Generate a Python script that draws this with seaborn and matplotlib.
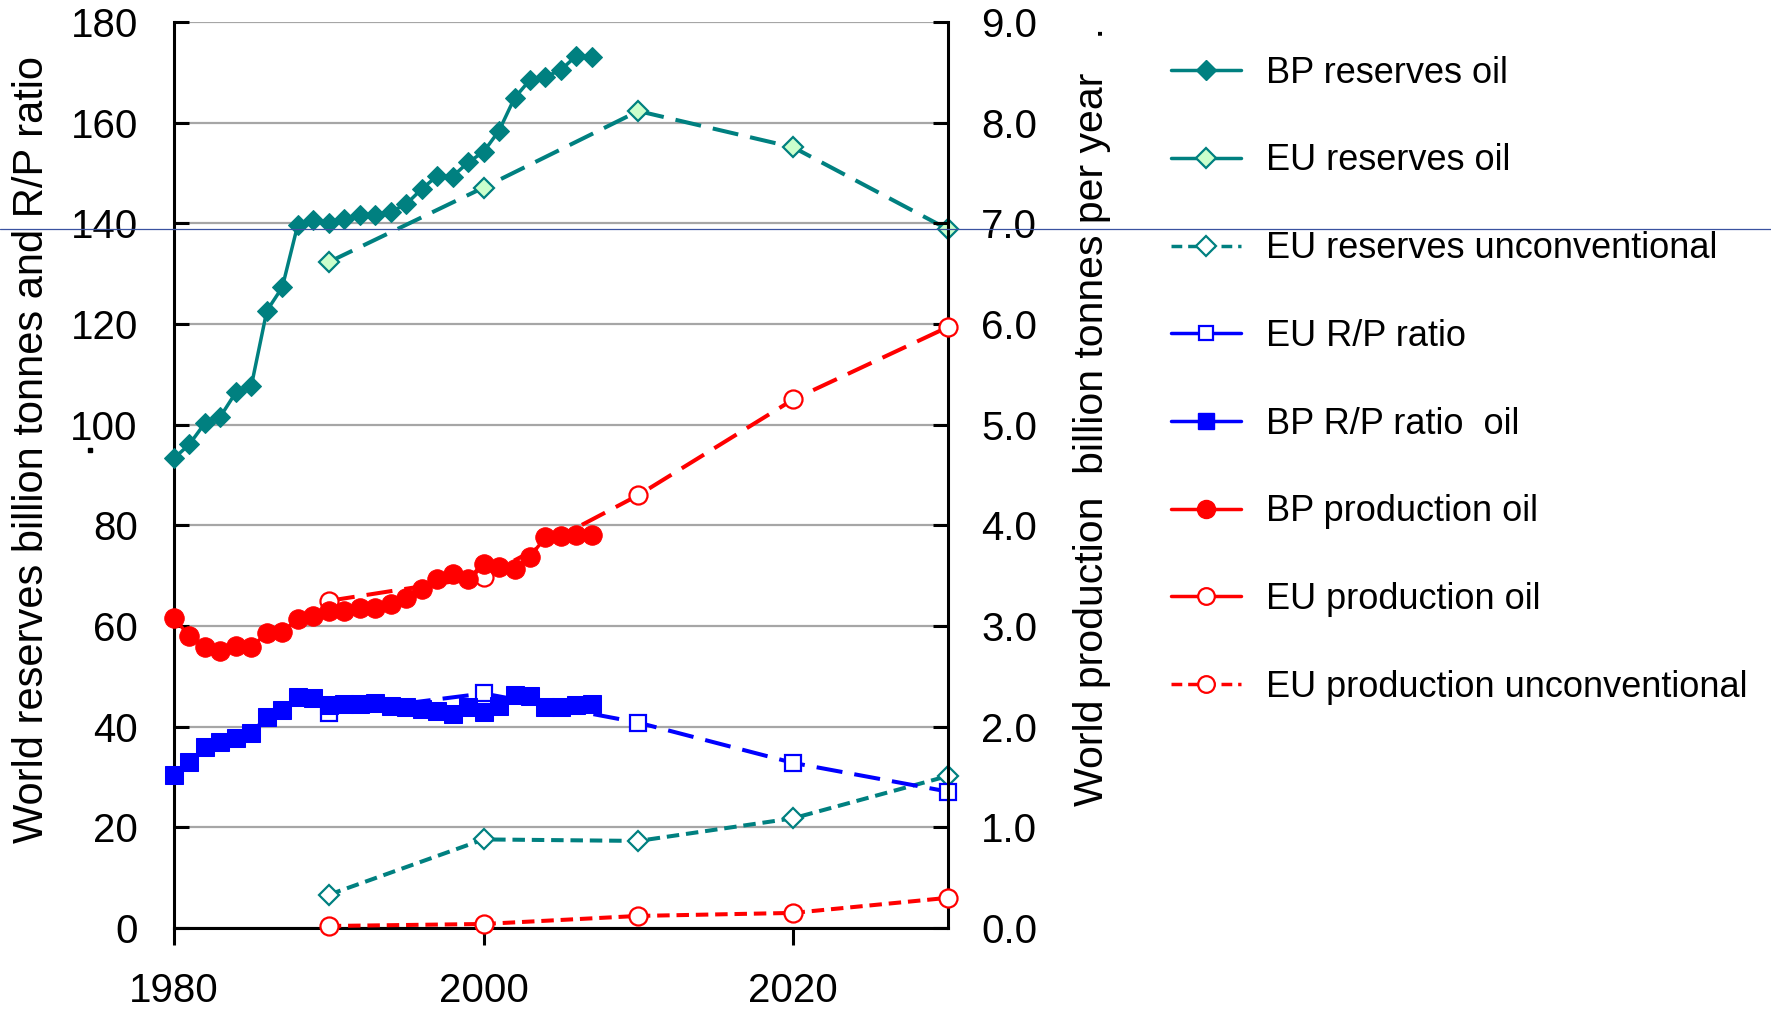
import matplotlib
matplotlib.use("Agg")
import matplotlib.pyplot as plt
from matplotlib.lines import Line2D
from matplotlib.ticker import FormatStrFormatter
import seaborn as sns
import pandas as pd

# ---- data -------------------------------------------------------------
bp_years = list(range(1980, 2008))
bp_reserves_oil = [93.3, 96.1, 100.3, 101.6, 106.4, 107.7, 122.6, 127.3, 139.7, 140.7,
                   140.0, 140.9, 141.7, 141.7, 142.3, 143.8, 146.8, 149.4, 149.3, 152.1,
                   154.2, 158.4, 164.9, 168.5, 169.1, 170.5, 173.3, 173.0]
bp_rp_ratio_oil = [30.3, 32.9, 35.9, 36.9, 37.8, 38.8, 42.0, 43.3, 45.8, 45.6,
                   44.4, 44.6, 44.6, 44.8, 44.1, 44.0, 43.5, 43.2, 42.5, 44.0,
                   42.9, 44.1, 46.3, 46.0, 44.0, 44.0, 44.4, 44.5]
bp_production_oil = [3.08, 2.90, 2.79, 2.75, 2.80, 2.79, 2.93, 2.94, 3.07, 3.10,
                     3.15, 3.15, 3.18, 3.18, 3.22, 3.28, 3.37, 3.47, 3.52, 3.47,
                     3.62, 3.59, 3.57, 3.69, 3.88, 3.89, 3.90, 3.90]

eu_years = [1990, 2000, 2010, 2020, 2030]
eu_reserves_oil = [132.3, 147.1, 162.3, 155.1, 138.8]
eu_reserves_unconv = [6.6, 17.6, 17.3, 21.8, 30.2]
eu_rp_ratio = [42.7, 46.6, 40.8, 32.8, 27.1]
eu_production_oil = [3.25, 3.49, 4.30, 5.25, 5.97]
eu_production_unconv = [0.02, 0.04, 0.12, 0.15, 0.30]

left_ticks = [0, 20, 40, 60, 80, 100, 120, 140, 160, 180]
right_ticks = [0.0, 1.0, 2.0, 3.0, 4.0, 5.0, 6.0, 7.0, 8.0, 9.0]
x_ticks = [1980, 2000, 2020]

series_labels = ["BP reserves oil", "EU reserves oil", "EU reserves unconventional",
                 "EU R/P ratio", "BP R/P ratio  oil", "BP production oil",
                 "EU production oil", "EU production unconventional"]

# ---- style ------------------------------------------------------------
sns.set_theme(style="white")
plt.rcParams["font.family"] = ["Liberation Sans", "DejaVu Sans"]

TEAL = "#008080"
BLUE = "#0000ff"
RED = "#ff0000"
MINT = "#ccffcc"
LONG = (0, (6.5, 3))
SHORT = (0, (3.1, 1.7))
FS = 29
LW_SOLID = 2.5
LW_DASH = 2.9

fig = plt.figure(figsize=(17.71, 10.13), dpi=100)
ax = fig.add_axes([0.0982, 0.0839, 0.4371, 0.8944])
ax2 = ax.twinx()

bp = pd.DataFrame({"year": bp_years, "reserves": bp_reserves_oil,
                   "rp": bp_rp_ratio_oil, "production": bp_production_oil})
eu = pd.DataFrame({"year": eu_years, "reserves": eu_reserves_oil,
                   "unconv": eu_reserves_unconv, "rp": eu_rp_ratio,
                   "production": eu_production_oil, "prod_unconv": eu_production_unconv})

common = dict(estimator=None, sort=False, clip_on=False, legend=False)

# left axis: reserves (billion tonnes) and R/P ratio (years)
sns.lineplot(data=eu, x="year", y="unconv", ax=ax, color=TEAL, lw=LW_DASH, linestyle=SHORT,
             marker="D", ms=10, mfc="white", mec=TEAL, mew=1.6, zorder=3, **common)
sns.lineplot(data=eu, x="year", y="reserves", ax=ax, color=TEAL, lw=LW_DASH, linestyle=LONG,
             marker="D", ms=10, mfc=MINT, mec=TEAL, mew=1.6, zorder=3, **common)
sns.lineplot(data=bp, x="year", y="reserves", ax=ax, color=TEAL, lw=LW_SOLID, linestyle="-",
             marker="D", ms=10.5, mfc=TEAL, mec=TEAL, zorder=4, **common)
sns.lineplot(data=eu, x="year", y="rp", ax=ax, color=BLUE, lw=LW_DASH, linestyle=LONG,
             marker="s", ms=11, mfc="white", mec=BLUE, mew=1.6, zorder=3, **common)
sns.lineplot(data=bp, x="year", y="rp", ax=ax, color=BLUE, lw=LW_SOLID, linestyle="-",
             marker="s", ms=13, mfc=BLUE, mec=BLUE, zorder=4, **common)

# right axis: production (billion tonnes per year)
sns.lineplot(data=eu, x="year", y="prod_unconv", ax=ax2, color=RED, lw=LW_DASH, linestyle=SHORT,
             marker="o", ms=13, mfc="white", mec=RED, mew=1.6, zorder=3, **common)
sns.lineplot(data=eu, x="year", y="production", ax=ax2, color=RED, lw=LW_DASH, linestyle=LONG,
             marker="o", ms=13, mfc="white", mec=RED, mew=1.6, zorder=3, **common)
sns.lineplot(data=bp, x="year", y="production", ax=ax2, color=RED, lw=LW_SOLID, linestyle="-",
             marker="o", ms=14, mfc=RED, mec=RED, zorder=4, **common)

# ---- axes -------------------------------------------------------------
ax.set_xlim(1980, 2030)
ax.set_ylim(0, 180)
ax2.set_ylim(0, 9)
ax.set_xticks(x_ticks)
ax.set_yticks(left_ticks)
ax2.set_yticks(right_ticks)
ax2.yaxis.set_major_formatter(FormatStrFormatter("%.1f"))

ax.yaxis.grid(True, color="#a6a6a6", lw=1.6)
ax.xaxis.grid(False)
ax2.grid(False)
ax.set_axisbelow(True)

for s in ["top", "right"]:
    ax.spines[s].set_visible(False)
for s in ["top", "left", "bottom"]:
    ax2.spines[s].set_visible(False)
for s in ["left", "bottom"]:
    ax.spines[s].set_color("black")
    ax.spines[s].set_linewidth(2.2)
ax2.spines["right"].set_color("black")
ax2.spines["right"].set_linewidth(2.2)

ax.tick_params(axis="y", direction="in", length=11, width=2.2, color="black",
               labelsize=FS, pad=26, labelcolor="black", left=True)
ax.tick_params(axis="x", direction="out", length=12, width=2.2, color="black",
               labelsize=FS, pad=20, labelcolor="black", bottom=True)
ax2.tick_params(axis="y", direction="in", length=11, width=2.2, color="black",
                labelsize=FS, pad=24, labelcolor="black", right=True)

ax.set_xlabel("")
ax.set_ylabel("World reserves billion tonnes and R/P ratio",
              family=["Liberation Sans Narrow", "Liberation Sans", "DejaVu Sans"],
              fontsize=30, color="black")
ax.yaxis.set_label_coords(-0.183, 0.528)
ax.yaxis.label.set_va("center")
ax2.set_ylabel("World production  billion tonnes per year   .", fontsize=29.5, color="black")
ax2.yaxis.set_label_coords(1.186, 0.565)
ax2.yaxis.label.set_va("center")

# ---- legend -----------------------------------------------------------
handles = [
    Line2D([], [], color=TEAL, lw=LW_SOLID, ls="-", marker="D", ms=10, mfc=TEAL, mec=TEAL),
    Line2D([], [], color=TEAL, lw=LW_SOLID, ls="-", marker="D", ms=10, mfc=MINT, mec=TEAL, mew=1.6),
    Line2D([], [], color=TEAL, lw=LW_SOLID, ls=SHORT, marker="D", ms=10, mfc="white", mec=TEAL, mew=1.6),
    Line2D([], [], color=BLUE, lw=LW_SOLID, ls="-", marker="s", ms=10, mfc="white", mec=BLUE, mew=1.6),
    Line2D([], [], color=BLUE, lw=LW_SOLID, ls="-", marker="s", ms=12, mfc=BLUE, mec=BLUE),
    Line2D([], [], color=RED, lw=LW_SOLID, ls="-", marker="o", ms=13, mfc=RED, mec=RED),
    Line2D([], [], color=RED, lw=LW_SOLID, ls="-", marker="o", ms=12, mfc="white", mec=RED, mew=1.6),
    Line2D([], [], color=RED, lw=LW_SOLID, ls=SHORT, marker="o", ms=12, mfc="white", mec=RED, mew=1.6),
]
fig.legend(handles, series_labels, loc="upper left", bbox_to_anchor=(0.661, 0.945),
           frameon=False, fontsize=26, handlelength=1.95, handletextpad=0.7,
           labelspacing=1.46, borderpad=0, borderaxespad=0, labelcolor="black")

# thin rule across the figure and a stray dot by the left labels
fig.add_artist(Line2D([0, 1], [1 - 229 / 1013, 1 - 229 / 1013], transform=fig.transFigure,
                      color="#3a52a0", lw=0.9, zorder=10))
fig.add_artist(Line2D([90 / 1771], [1 - 450 / 1013], transform=fig.transFigure,
                      marker="s", ms=2.2, color="black", lw=0))

fig.savefig("out.png", dpi=100)
